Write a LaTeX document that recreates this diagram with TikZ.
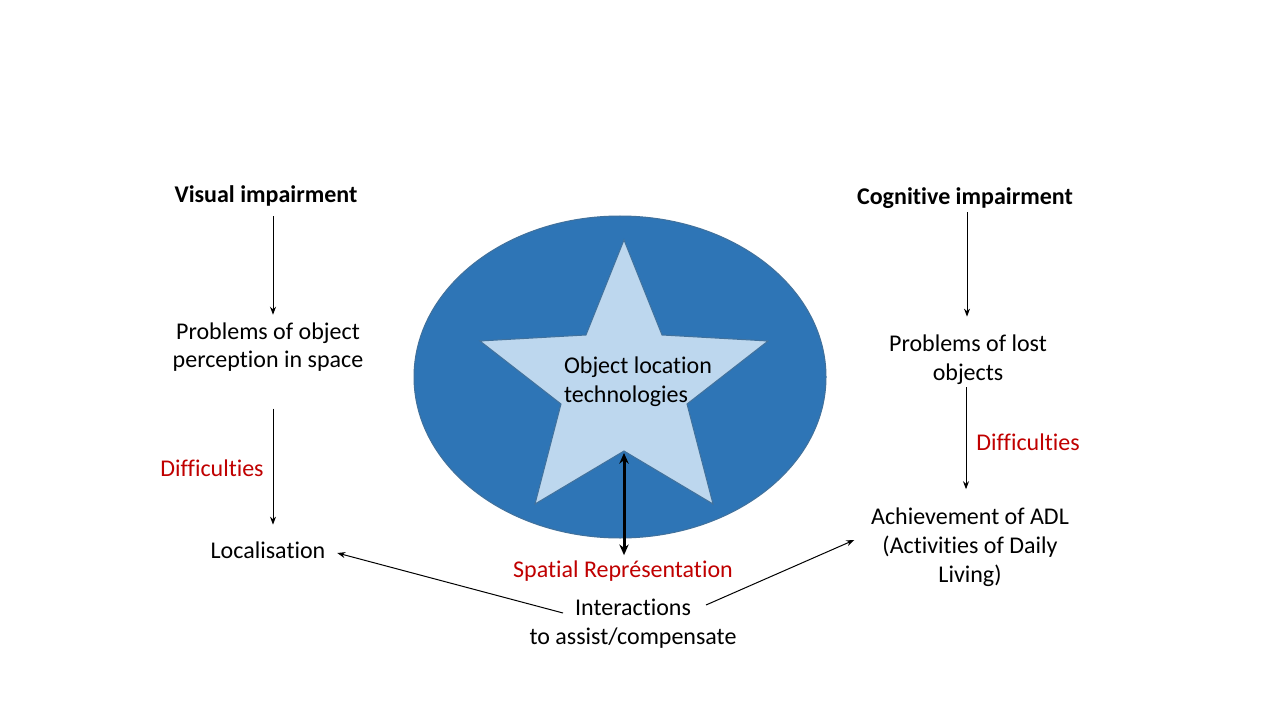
\documentclass[tikz,border=0pt]{standalone}
\usepackage{fontspec}
\setmainfont{Carlito}[Ligatures=NoCommon]
\usetikzlibrary{arrows.meta}
\definecolor{ellblue}{HTML}{2E75B6}
\definecolor{starblue}{HTML}{BDD7EE}
\definecolor{edgeblue}{HTML}{41719C}
\definecolor{txtred}{HTML}{C00000}
\begin{document}
\begin{tikzpicture}[x=0.75pt,y=-0.75pt,
  lbl/.style={font=\fontsize{18}{21.6}\selectfont, align=center, inner sep=2pt, text=black},
  hd/.style={lbl, font=\fontsize{18}{21.6}\selectfont\bfseries},
  redlbl/.style={lbl, text=txtred},
  arr/.style={-{Stealth[length=6pt,width=4.5pt]}, line width=0.75pt},
  bigarr/.style={{Stealth[length=8pt,width=7pt]}-{Stealth[length=8pt,width=7pt]}, line width=2.25pt}]
\useasboundingbox (0,0) rectangle (1280,720);
\fill[white] (0,0) rectangle (1280,720);

% ellipse and star
\draw[fill=ellblue, draw=edgeblue, line width=0.75pt] (620,377) ellipse [x radius=154.5pt, y radius=120.75pt];
\draw[fill=starblue, draw=edgeblue, line width=0.75pt, line join=miter]
  (624,240) -- (662,335) -- (768,341) -- (687,404) -- (713,504) -- (624,451)
  -- (535,504) -- (561,404) -- (480,341) -- (586,335) -- cycle;
\coordinate (starin) at (624,453);
\node[lbl, align=left] (tech) at (638,382) {Object location\\technologies};

% left column
\node[hd] (vis) at (266,196) {Visual impairment};
\node[lbl] (prob1) at (268,347) {Problems of object\\perception in space};
\node[redlbl] (diff1) at (212,468) {Difficulties};
\node[lbl] (loc) at (268,550) {Localisation};

% right column
\node[hd] (cog) at (965,198) {Cognitive impairment};
\node[lbl] (prob2) at (968,360) {Problems of lost\\objects};
\node[redlbl] (diff2) at (1028,442) {Difficulties};
\node[lbl] (adl) at (970,547) {Achievement of ADL\\(Activities of Daily\\Living)};

% bottom
\node[redlbl] (spatial) at (623,571) {Spatial Représentation};
\node[lbl] (inter) at (633,624) {Interactions\\to assist/compensate};

% connectors
\draw[arr] ([xshift=5.25pt,yshift=-5.25pt]vis.south) -- ([xshift=3.75pt,yshift=3.5pt]prob1.north);
\draw[arr] ([xshift=3.75pt,yshift=-25.5pt]prob1.south) -- ([xshift=3.75pt,yshift=10.5pt]loc.north);
\draw[arr] ([xshift=1.5pt,yshift=-0.75pt]cog.south) -- ([xshift=-0.75pt,yshift=11.75pt]prob2.north);
\draw[arr] ([xshift=-1.5pt,yshift=0.5pt]prob2.south) -- ([xshift=-3pt,yshift=11.75pt]adl.north);
\draw[bigarr] (starin) -- ([yshift=2pt]starin |- spatial.north);
\coordinate (iL) at (563,613);
\coordinate (iR) at (706,605);
\draw[arr] (iL) -- ([shift={(9,3)}]loc.east);
\draw[arr] (iR) -- ([shift={(-14,-7)}]adl.west);
\end{tikzpicture}
\end{document}
